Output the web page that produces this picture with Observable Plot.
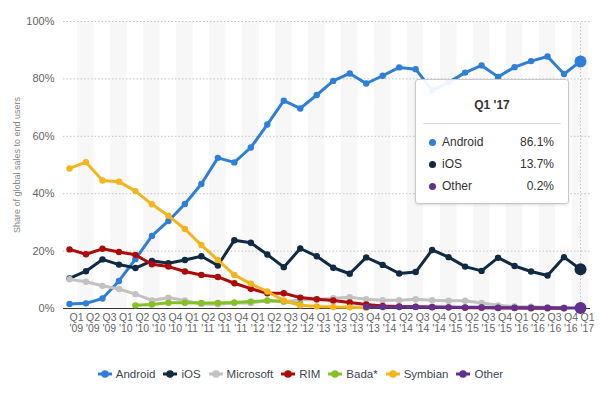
<!DOCTYPE html>
<html><head><meta charset="utf-8">
<script src="https://cdn.jsdelivr.net/npm/d3@7"></script>
<script src="https://cdn.jsdelivr.net/npm/@observablehq/plot@0.6"></script>
<style>
body{margin:0;background:#fff;font-family:"Liberation Sans",Arial,Helvetica,sans-serif;}
#wrap{position:relative;width:600px;height:396px;overflow:hidden;}
#chart svg{display:block;}
#legend{position:absolute;left:0;top:366px;width:600px;height:16px;display:flex;justify-content:center;align-items:center;font-size:11.5px;color:#3d4650;}
#legend .it{display:flex;align-items:center;margin:0 3.5px;}
#legend svg{margin-right:3px;}
#tip{position:absolute;left:415px;top:79px;width:154px;height:125px;box-sizing:border-box;background:rgba(255,255,255,0.93);border:1px solid #c9c9c9;border-radius:3px;box-shadow:0 1px 3px rgba(0,0,0,0.12);font-size:12px;color:#333;}
#tip .t{position:absolute;left:0;width:100%;top:18px;text-align:center;font-weight:bold;}
#tip .sep{position:absolute;left:7px;right:7px;top:43px;border-top:1px solid #ddd;}
#tip .row{position:absolute;left:13px;right:14px;height:16px;line-height:16px;}
#tip .row .d{position:absolute;left:0;top:4.5px;width:7px;height:7px;border-radius:50%;}
#tip .row .n{position:absolute;left:13px;}
#tip .row .v{position:absolute;right:0;}
</style></head><body>
<div id="wrap"><div id="chart"></div><div id="legend"></div><div id="tip"></div></div>
<script>
const quarters = ["Q1 '09","Q2 '09","Q3 '09","Q1 '10","Q2 '10","Q3 '10","Q4 '10","Q1 '11","Q2 '11","Q3 '11","Q4 '11","Q1 '12","Q2 '12","Q3 '12","Q4 '12","Q1 '13","Q2 '13","Q3 '13","Q4 '13","Q1 '14","Q2 '14","Q3 '14","Q4 '14","Q1 '15","Q2 '15","Q3 '15","Q4 '15","Q1 '16","Q2 '16","Q3 '16","Q4 '16","Q1 '17"];
const android = [1.6,1.8,3.5,9.6,17.2,25.3,30.5,36.4,43.4,52.5,50.9,56.1,64.1,72.4,69.7,74.4,79.3,81.9,78.4,81.1,84.0,83.4,76.0,78.8,82.2,84.7,80.7,84.1,86.2,87.8,81.7,86.1];
const ios = [10.5,13.0,17.1,15.3,14.1,16.6,15.8,16.9,18.2,15.0,23.8,22.9,18.8,14.4,20.9,18.2,14.2,12.1,17.8,15.2,12.2,12.7,20.4,17.9,14.6,13.1,17.7,14.8,12.9,11.5,17.9,13.7];
const microsoft = [10.2,9.3,7.9,6.8,5.0,2.8,3.8,2.8,1.6,1.5,1.9,1.9,2.7,2.4,3.0,3.1,3.6,3.9,3.2,2.9,2.9,3.2,2.9,2.7,2.7,1.9,1.1,0.7,0.6,0.4,0.3,null];
const rim = [20.6,18.9,20.8,19.7,18.7,15.4,14.6,12.9,11.7,11.0,8.8,6.9,5.3,5.3,3.8,3.2,2.8,2.1,1.4,0.9,0.7,0.6,0.5,0.4,0.3,0.3,0.2,0.2,0.1,0.1,0.1,null];
const bada = [null,null,null,null,1.1,1.4,2.0,2.0,1.9,1.9,2.1,2.4,2.8,2.4,1.6,null,null,null,null,null,null,null,null,null,null,null,null,null,null,null,null,null];
const symbian = [48.8,51.0,44.6,44.2,40.9,36.3,32.3,27.7,22.1,16.9,11.7,8.6,5.9,2.8,1.1,0.7,0.5,0.4,0.3,null,null,null,null,null,null,null,null,null,null,null,null,null];
const other = [null,null,null,null,null,null,null,null,null,null,null,null,null,null,null,null,null,null,0.5,0.5,0.5,0.5,0.4,0.4,0.4,0.4,0.3,0.3,0.3,0.3,0.2,0.2];

const seriesNames = ["Android","iOS","Microsoft","RIM","Bada*","Symbian","Other"];
const seriesColors = ["#2f7ed8","#0f2a42","#c2c2c2","#ad0a0a","#84c125","#f4b41e","#62318b"];
const seriesValues = [android, ios, microsoft, rim, bada, symbian, other];
const yTicks = [0,20,40,60,80,100];
const tipSeries = ["Android","iOS","Other"];
const yTitle = "Share of global sales to end users";

const idx = d3.range(quarters.length);
const last = quarters.length - 1;
const rows = seriesNames.flatMap((name,k)=>seriesValues[k].map((v,i)=>({name,i,v})).filter(d=>d.v!=null));

const marks = [
  Plot.rect(idx.filter(i=>i%2===1), {x1:i=>i-0.5, x2:i=>i+0.5, y1:0, y2:100, fill:"#f7f7f7"}),
  Plot.ruleY(yTicks.filter(d=>d>0), {stroke:"#c4c4c4", strokeDasharray:"1.5,2"}),
  Plot.ruleX([last], {y1:0, y2:100, stroke:"#c4c4c4", strokeDasharray:"1.5,2"}),
  Plot.ruleY([0], {stroke:"#333", strokeWidth:1.2})
];
seriesNames.forEach((name,k)=>{
  const d = rows.filter(r=>r.name===name);
  marks.push(Plot.line(d,{x:"i",y:"v",stroke:seriesColors[k],strokeWidth:3,strokeLinejoin:"round",strokeLinecap:"round"}));
  marks.push(Plot.dot(d,{x:"i",y:"v",r:3.2,fill:seriesColors[k]}));
});
seriesNames.forEach((name,k)=>{
  if (!tipSeries.includes(name)) return;
  marks.push(Plot.dot(rows.filter(r=>r.name===name && r.i===last),{x:"i",y:"v",r:6,fill:seriesColors[k]}));
});
marks.push(
  Plot.axisY({ticks:yTicks, tickFormat:d=>d+"%", tickSize:0, tickPadding:9, fontSize:11, fill:"#666", label:null}),
  Plot.axisX({ticks:idx, tickFormat:i=>quarters[i].replace(" ","\n"), tickSize:0, tickPadding:5, textAnchor:"start", fontSize:10.5, lineHeight:1.05, fill:"#666", label:null}),
  Plot.text([yTitle], {frameAnchor:"left", textAnchor:"middle", rotate:-90, dx:-46, fontSize:9, fill:"#888"})
);

const chart = Plot.plot({
  width:600, height:352,
  marginLeft:63, marginRight:10, marginTop:21, marginBottom:44,
  x:{type:"linear", domain:[0,last], insetLeft:6, insetRight:10},
  y:{domain:[0,100]},
  style:{fontFamily:"'Liberation Sans', Arial, sans-serif", background:"#fff"},
  marks
});
document.getElementById("chart").appendChild(chart);

// legend
const lg = document.getElementById("legend");
seriesNames.forEach((name,k)=>{
  const it = document.createElement("div"); it.className="it";
  it.innerHTML = `<svg width="16" height="10"><line x1="1" y1="5" x2="15" y2="5" stroke="${seriesColors[k]}" stroke-width="3"/><circle cx="8" cy="5" r="3.8" fill="${seriesColors[k]}"/></svg><span>${name}</span>`;
  lg.appendChild(it);
});

// tooltip
const tip = document.getElementById("tip");
let html = `<div class="t">${quarters[last]}</div><div class="sep"></div>`;
tipSeries.forEach((name,j)=>{
  const k = seriesNames.indexOf(name);
  const v = seriesValues[k][last];
  html += `<div class="row" style="top:${54+j*22}px"><span class="d" style="background:${seriesColors[k]}"></span><span class="n">${name}</span><span class="v">${v.toFixed(1)}%</span></div>`;
});
tip.innerHTML = html;
</script>
</body></html>
